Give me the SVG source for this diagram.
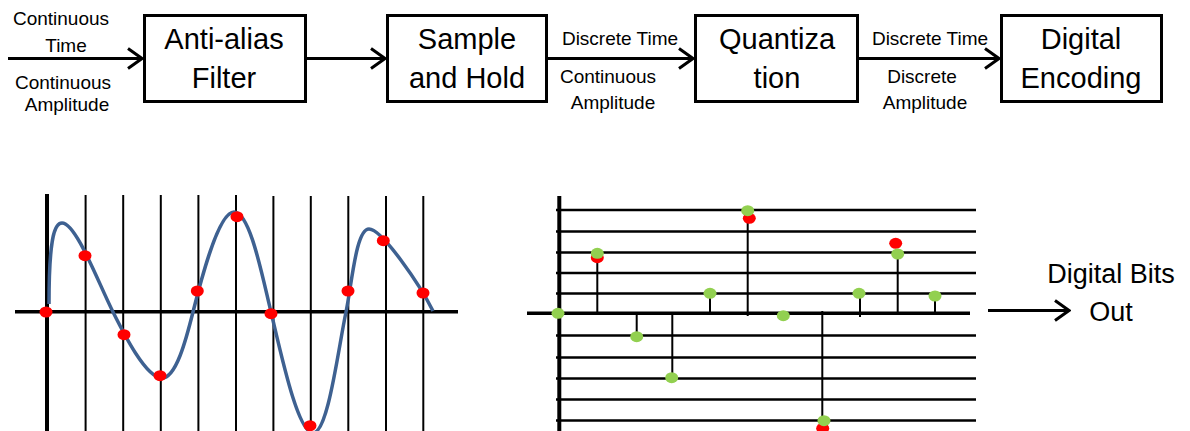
<svg xmlns="http://www.w3.org/2000/svg" width="1190" height="431" viewBox="0 0 1190 431">
<defs>
<style>
.box{fill:#fff;stroke:#000;stroke-width:3}
.big{font-family:"Liberation Sans",Arial,sans-serif;font-size:29px;fill:#000;text-anchor:middle}
.sm{font-family:"Liberation Sans",Arial,sans-serif;font-size:19px;fill:#000;text-anchor:middle}
.out{font-family:"Liberation Sans",Arial,sans-serif;font-size:27px;fill:#000;text-anchor:middle}
.conn{stroke:#000;stroke-width:3;fill:none;marker-end:url(#arr)}
.vl{stroke:#000;stroke-width:2}
.ax{stroke:#000;stroke-width:3.5}
.gl{stroke:#000;stroke-width:2.5}
.stem{stroke:#000;stroke-width:2}
.red{fill:#ff0000}
.grn{fill:#92d050}
</style>
<marker id="arr" viewBox="-16 -12 18 24" refX="0" refY="0" markerWidth="18" markerHeight="24" markerUnits="userSpaceOnUse" orient="auto">
<path d="M-14,-10 L0,0 L-14,10" fill="none" stroke="#000" stroke-width="3"/>
</marker>
</defs>

<g id="connectors">
<line class="conn" x1="8" y1="58.5" x2="142" y2="58.5"/>
<line class="conn" x1="306" y1="58.5" x2="385" y2="58.5"/>
<line class="conn" x1="547" y1="58.5" x2="693" y2="58.5"/>
<line class="conn" x1="858" y1="58.5" x2="999" y2="58.5"/>
<line class="conn" x1="988" y1="310.5" x2="1069" y2="310.5"/>
</g>

<g id="labels">
<text class="sm" x="61" y="25">Continuous</text>
<text class="sm" x="66" y="52">Time</text>
<text class="sm" x="63" y="89">Continuous</text>
<text class="sm" x="67" y="111">Amplitude</text>
<text class="sm" x="620" y="45">Discrete Time</text>
<text class="sm" x="608" y="83">Continuous</text>
<text class="sm" x="613" y="109">Amplitude</text>
<text class="sm" x="930" y="45">Discrete Time</text>
<text class="sm" x="922" y="83">Discrete</text>
<text class="sm" x="925" y="109">Amplitude</text>
</g>

<g id="node-antialias">
<rect class="box" x="144.5" y="15.5" width="161" height="86"/>
<text class="big" x="224" y="49">Anti-alias</text>
<text class="big" x="224" y="88">Filter</text>
</g>
<g id="node-samplehold">
<rect class="box" x="387.5" y="15.5" width="159" height="86"/>
<text class="big" x="467" y="49">Sample</text>
<text class="big" x="467" y="88">and Hold</text>
</g>
<g id="node-quantization">
<rect class="box" x="695.5" y="15.5" width="162" height="86"/>
<text class="big" x="777" y="49">Quantiza</text>
<text class="big" x="777" y="88">tion</text>
</g>
<g id="node-encoding">
<rect class="box" x="1001.5" y="15.5" width="160" height="86"/>
<text class="big" x="1081" y="49">Digital</text>
<text class="big" x="1081" y="88">Encoding</text>
</g>

<g id="digital-bits-out">
<text class="out" x="1111" y="283">Digital Bits</text>
<text class="out" x="1111" y="321">Out</text>
</g>

<g id="analog-plot">
<line x1="47" y1="194" x2="47" y2="431" stroke="#000" stroke-width="4"/>
<line class="vl" x1="85.6" y1="195" x2="85.6" y2="431"/>
<line class="vl" x1="123.2" y1="195" x2="123.2" y2="431"/>
<line class="vl" x1="160.8" y1="195" x2="160.8" y2="431"/>
<line class="vl" x1="198.4" y1="195" x2="198.4" y2="431"/>
<line class="vl" x1="236" y1="195" x2="236" y2="431"/>
<line class="vl" x1="273.4" y1="196" x2="273.4" y2="431"/>
<line class="vl" x1="310.8" y1="196" x2="310.8" y2="431"/>
<line class="vl" x1="348.3" y1="196" x2="348.3" y2="431"/>
<line class="vl" x1="386" y1="196" x2="386" y2="431"/>
<line class="vl" x1="423.3" y1="196" x2="423.3" y2="431"/>
<line class="ax" x1="15" y1="311.8" x2="458" y2="311.8"/>
<path d="M49,304 C49,240 54,223 62,223 C76,223 98,282 113,312 C124,334 146,378 162,378 C176,378 186,340 193,312 C200,284 218,212 234,212 C250,212 262,275 271,312 C282,358 298,433 313,433 C328,433 338,350 346,312 C352,283 356,229 369,229 C382,229 420,285 433,311" fill="none" stroke="#3e6191" stroke-width="3.5"/>
<ellipse class="red" cx="46" cy="312" rx="6.5" ry="5.5"/>
<ellipse class="red" cx="85" cy="255.7" rx="6.5" ry="5.5"/>
<ellipse class="red" cx="124" cy="334.7" rx="6.5" ry="5.5"/>
<ellipse class="red" cx="160" cy="375.7" rx="6.5" ry="5.5"/>
<ellipse class="red" cx="197.3" cy="291" rx="6.5" ry="5.5"/>
<ellipse class="red" cx="237" cy="216.7" rx="6.5" ry="5.5"/>
<ellipse class="red" cx="271" cy="313.7" rx="6.5" ry="5.5"/>
<ellipse class="red" cx="310" cy="425.7" rx="6.5" ry="5.5"/>
<ellipse class="red" cx="348" cy="291" rx="6.5" ry="5.5"/>
<ellipse class="red" cx="383.3" cy="240.7" rx="6.5" ry="5.5"/>
<ellipse class="red" cx="423" cy="293" rx="6.5" ry="5.5"/>
</g>

<g id="quantized-plot">
<line class="gl" x1="556" y1="210" x2="976" y2="210"/>
<line class="gl" x1="556" y1="231.5" x2="976" y2="231.5"/>
<line class="gl" x1="556" y1="252.5" x2="976" y2="252.5"/>
<line class="gl" x1="556" y1="273" x2="976" y2="273"/>
<line class="gl" x1="556" y1="293.5" x2="976" y2="293.5"/>
<line class="gl" x1="556" y1="335.5" x2="976" y2="335.5"/>
<line class="gl" x1="556" y1="357.5" x2="976" y2="357.5"/>
<line class="gl" x1="556" y1="378.5" x2="976" y2="378.5"/>
<line class="gl" x1="556" y1="399.5" x2="976" y2="399.5"/>
<line class="gl" x1="556" y1="420.5" x2="976" y2="420.5"/>
<line x1="559.3" y1="196" x2="559.3" y2="431" stroke="#000" stroke-width="4"/>
<line class="ax" x1="527" y1="313.3" x2="970" y2="313.3"/>
<line class="stem" x1="597.3" y1="313" x2="597.3" y2="255"/>
<line class="stem" x1="636.7" y1="313" x2="636.7" y2="336"/>
<line class="stem" x1="672.3" y1="313" x2="672.3" y2="377"/>
<line class="stem" x1="710" y1="313" x2="710" y2="294"/>
<line class="stem" x1="747.7" y1="316" x2="747.7" y2="215"/>
<line class="stem" x1="822.3" y1="311" x2="822.3" y2="420"/>
<line class="stem" x1="860" y1="317" x2="860" y2="294"/>
<line class="stem" x1="897.7" y1="313" x2="897.7" y2="254"/>
<line class="stem" x1="935" y1="313" x2="935" y2="296"/>
<ellipse class="red" cx="597.3" cy="257.7" rx="6.5" ry="5.5"/>
<ellipse class="red" cx="749.3" cy="218.3" rx="6.5" ry="5.5"/>
<ellipse class="red" cx="822.7" cy="428.3" rx="6.5" ry="5.5"/>
<ellipse class="red" cx="895.7" cy="243.3" rx="6.5" ry="5.5"/>
<ellipse class="grn" cx="558" cy="313.3" rx="6.5" ry="5.5"/>
<ellipse class="grn" cx="597.3" cy="253.3" rx="6.5" ry="5.5"/>
<ellipse class="grn" cx="636.7" cy="336.7" rx="6.5" ry="5.5"/>
<ellipse class="grn" cx="671.7" cy="377.7" rx="6.5" ry="5.5"/>
<ellipse class="grn" cx="710" cy="293.3" rx="6.5" ry="5.5"/>
<ellipse class="grn" cx="747.7" cy="210.7" rx="6.5" ry="5.5"/>
<ellipse class="grn" cx="783.3" cy="315.7" rx="6.5" ry="5.5"/>
<ellipse class="grn" cx="824" cy="420.7" rx="6.5" ry="5.5"/>
<ellipse class="grn" cx="859" cy="293.3" rx="6.5" ry="5.5"/>
<ellipse class="grn" cx="897.7" cy="254" rx="6.5" ry="5.5"/>
<ellipse class="grn" cx="935" cy="296" rx="6.5" ry="5.5"/>
</g>
</svg>
